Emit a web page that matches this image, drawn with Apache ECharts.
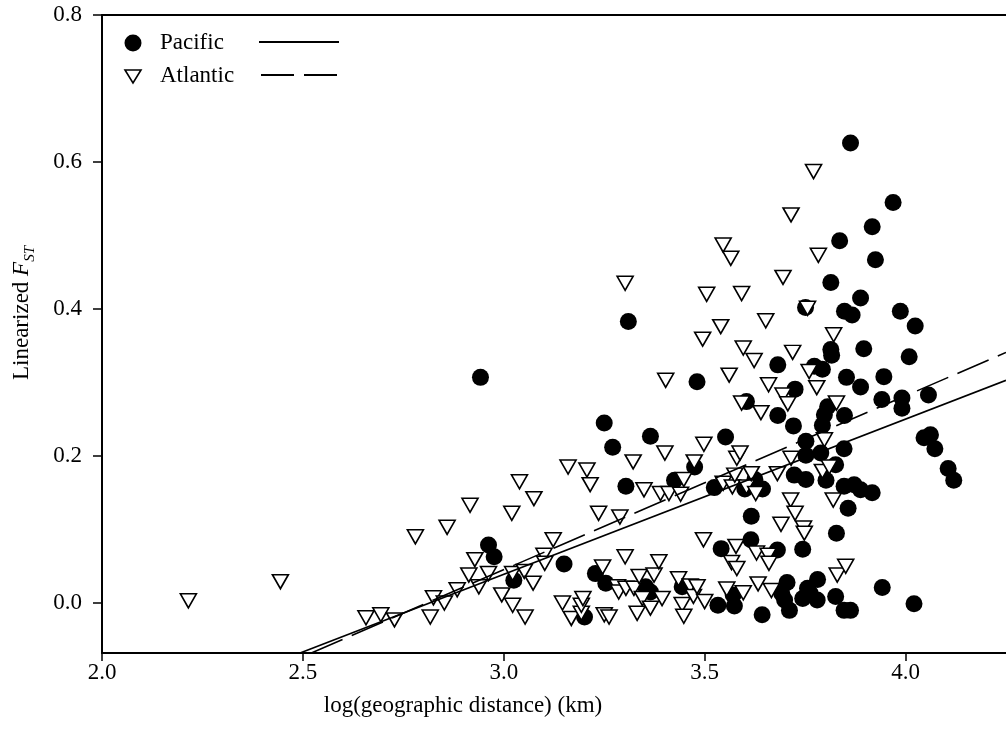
<!DOCTYPE html>
<html>
<head>
<meta charset="utf-8">
<script src="https://cdn.jsdelivr.net/npm/echarts@6/dist/echarts.min.js"></script>
<style>
  html, body { margin: 0; padding: 0; background: #fff; }
  #chart { width: 1006px; height: 745px; }
</style>
</head>
<body>
<div id="chart"></div>
<script>
// Pairwise population comparisons: log10 geographic distance (km) vs linearized FST
const pacific = [
  [2.942, 0.307], [2.962, 0.079], [2.976, 0.063], [3.025, 0.031], [3.150, 0.053],
  [3.201, -0.019], [3.228, 0.040], [3.254, 0.027], [3.250, 0.245], [3.271, 0.212],
  [3.304, 0.159], [3.310, 0.383], [3.353, 0.022], [3.365, 0.015], [3.365, 0.227],
  [3.425, 0.167], [3.444, 0.022], [3.475, 0.185], [3.481, 0.301], [3.524, 0.157],
  [3.533, -0.003], [3.541, 0.074], [3.552, 0.226], [3.571, 0.011], [3.574, -0.004],
  [3.600, 0.155], [3.604, 0.274], [3.615, 0.086], [3.616, 0.118], [3.625, 0.168],
  [3.643, -0.016], [3.644, 0.155], [3.681, 0.072], [3.682, 0.324], [3.682, 0.255],
  [3.692, 0.013], [3.699, 0.004], [3.705, 0.028], [3.711, -0.010], [3.721, 0.241],
  [3.723, 0.174], [3.725, 0.291], [3.744, 0.073], [3.744, 0.006], [3.751, 0.402],
  [3.752, 0.220], [3.752, 0.201], [3.752, 0.168], [3.756, 0.020], [3.763, 0.013],
  [3.773, 0.322], [3.780, 0.004], [3.781, 0.032], [3.789, 0.204], [3.793, 0.318],
  [3.793, 0.242], [3.798, 0.256], [3.802, 0.167], [3.806, 0.267], [3.814, 0.436],
  [3.814, 0.345], [3.816, 0.337], [3.826, 0.188], [3.826, 0.009], [3.828, 0.095],
  [3.836, 0.493], [3.847, 0.210], [3.847, 0.159], [3.847, -0.010], [3.848, 0.397],
  [3.848, 0.255], [3.853, 0.307], [3.857, 0.129], [3.863, 0.626], [3.863, -0.010],
  [3.867, 0.392], [3.872, 0.161], [3.888, 0.415], [3.888, 0.294], [3.888, 0.154],
  [3.896, 0.346], [3.917, 0.512], [3.917, 0.150], [3.925, 0.467], [3.941, 0.277],
  [3.942, 0.021], [3.946, 0.308], [3.969, 0.545], [3.987, 0.397], [3.991, 0.279],
  [3.991, 0.265], [4.009, 0.335], [4.021, -0.001], [4.024, 0.377], [4.046, 0.225],
  [4.062, 0.229], [4.057, 0.283], [4.073, 0.210], [4.106, 0.183], [4.120, 0.167]
];

const atlantic = [
  [2.215, 0.003], [2.444, 0.029], [2.657, -0.020], [2.694, -0.016], [2.728, -0.023],
  [2.780, 0.090], [2.817, -0.019], [2.825, 0.007], [2.852, 0.000], [2.859, 0.103],
  [2.884, 0.018], [2.913, 0.038], [2.916, 0.133], [2.928, 0.059], [2.938, 0.022],
  [2.962, 0.040], [2.995, 0.011], [3.020, 0.122], [3.022, 0.040], [3.022, -0.003],
  [3.039, 0.165], [3.051, 0.043], [3.053, -0.019], [3.073, 0.027], [3.075, 0.142],
  [3.100, 0.065], [3.102, 0.054], [3.123, 0.086], [3.146, 0.000], [3.160, 0.185],
  [3.168, -0.021], [3.193, -0.014], [3.193, -0.003], [3.197, 0.006], [3.207, 0.181],
  [3.215, 0.161], [3.236, 0.122], [3.246, 0.049], [3.250, -0.016], [3.262, -0.019],
  [3.283, 0.022], [3.286, 0.015], [3.289, 0.117], [3.302, 0.063], [3.302, 0.435],
  [3.304, 0.020], [3.322, 0.192], [3.324, 0.020], [3.332, -0.014], [3.337, 0.036],
  [3.345, 0.006], [3.349, 0.154], [3.365, -0.007], [3.374, 0.038], [3.386, 0.056],
  [3.390, 0.149], [3.394, 0.006], [3.401, 0.204], [3.403, 0.303], [3.411, 0.149],
  [3.435, 0.033], [3.440, 0.148], [3.444, -0.002], [3.448, 0.168], [3.448, -0.018],
  [3.464, 0.023], [3.472, 0.009], [3.474, 0.192], [3.481, 0.022], [3.495, 0.359],
  [3.497, 0.086], [3.498, 0.216], [3.500, 0.002], [3.505, 0.420], [3.540, 0.376],
  [3.546, 0.487], [3.546, 0.163], [3.555, 0.019], [3.561, 0.310], [3.565, 0.469],
  [3.567, 0.055], [3.569, 0.158], [3.575, 0.174], [3.578, 0.077], [3.580, 0.197],
  [3.580, 0.047], [3.588, 0.204], [3.592, 0.421], [3.592, 0.272], [3.596, 0.347],
  [3.596, 0.014], [3.604, 0.158], [3.616, 0.176], [3.623, 0.330], [3.627, 0.149],
  [3.629, 0.068], [3.633, 0.026], [3.640, 0.259], [3.652, 0.384], [3.658, 0.065],
  [3.659, 0.297], [3.660, 0.054], [3.666, 0.017], [3.681, 0.176], [3.690, 0.107],
  [3.695, 0.443], [3.695, 0.283], [3.707, 0.271], [3.714, 0.140], [3.715, 0.528],
  [3.715, 0.197], [3.719, 0.341], [3.725, 0.122], [3.746, 0.102], [3.748, 0.095],
  [3.756, 0.401], [3.760, 0.315], [3.771, 0.587], [3.779, 0.293], [3.783, 0.473],
  [3.793, 0.179], [3.798, 0.222], [3.810, 0.185], [3.820, 0.140], [3.821, 0.365],
  [3.828, 0.272], [3.830, 0.038], [3.851, 0.050]
];

// Least-squares regression lines (end points across the axis range)
const pacificFit = [[2.493, -0.068], [4.25, 0.303]];
const atlanticFit = [[2.521, -0.068], [4.25, 0.341]];

const xTicks = [2.0, 2.5, 3.0, 3.5, 4.0];
const yTicks = [0.0, 0.2, 0.4, 0.6, 0.8];
const seriesNames = ['Pacific', 'Atlantic'];
const xTitle = 'log(geographic distance) (km)';

const FONT = '"Liberation Serif", "Times New Roman", serif';
const chart = echarts.init(document.getElementById('chart'), null, { renderer: 'canvas' });

const axisText = { fontFamily: FONT, fontSize: 23, color: '#000' };

chart.setOption({
  animation: false,
  backgroundColor: '#fff',
  grid: { left: 102, top: 15, right: -7, bottom: 92 },
  xAxis: [{
    type: 'value', min: 2.0, max: 4.25,
    axisLine: { show: true, onZero: false, lineStyle: { color: '#000', width: 2 } },
    axisTick: { show: true, inside: false, length: 8, customValues: xTicks, lineStyle: { color: '#000', width: 1.5 } },
    axisLabel: Object.assign({ margin: 8, customValues: xTicks, formatter: v => v.toFixed(1) }, axisText),
    splitLine: { show: false }
  }, {
    type: 'value', min: 2.0, max: 4.25, position: 'top',
    axisLine: { show: true, onZero: false, lineStyle: { color: '#000', width: 2 } },
    axisTick: { show: false }, axisLabel: { show: false }, splitLine: { show: false }
  }],
  yAxis: {
    type: 'value', min: -0.068, max: 0.8,
    axisLine: { show: true, onZero: false, lineStyle: { color: '#000', width: 2 } },
    axisTick: { show: true, inside: false, length: 9, customValues: yTicks, lineStyle: { color: '#000', width: 1.5 } },
    axisLabel: Object.assign({ margin: 20, customValues: yTicks, formatter: v => v.toFixed(1) }, axisText),
    splitLine: { show: false }
  },
  series: [{
    name: seriesNames[0], type: 'scatter', data: pacific,
    symbol: 'circle', symbolSize: 17,
    itemStyle: { color: '#000', opacity: 1 }, z: 2
  }, {
    name: seriesNames[1], type: 'scatter', data: atlantic,
    symbol: 'triangle', symbolRotate: 180, symbolSize: [16, 14],
    itemStyle: { color: '#fff', borderColor: '#000', borderWidth: 1.6, opacity: 1 }, z: 3
  }, {
    name: seriesNames[0] + ' fit', type: 'line', data: pacificFit,
    showSymbol: false, symbol: 'none', silent: true,
    lineStyle: { color: '#000', width: 1.6, type: 'solid' }, z: 4
  }, {
    name: seriesNames[1] + ' fit', type: 'line', data: atlanticFit,
    showSymbol: false, symbol: 'none', silent: true,
    lineStyle: { color: '#000', width: 1.6, type: [34, 10] }, z: 4
  }],
  graphic: [
    // legend: marker, label and line sample for each group
    { type: 'circle', shape: { cx: 133, cy: 43, r: 8.5 }, style: { fill: '#000' }, z: 10 },
    { type: 'text', x: 160, y: 43, style: { text: seriesNames[0], fontFamily: FONT, fontSize: 23, fill: '#000', verticalAlign: 'middle' }, z: 10 },
    { type: 'line', shape: { x1: 259, y1: 42, x2: 339, y2: 42 }, style: { stroke: '#000', lineWidth: 1.8 }, z: 10 },
    { type: 'polygon', shape: { points: [[125, 70], [141, 70], [133, 83]] }, style: { fill: '#fff', stroke: '#000', lineWidth: 1.6 }, z: 10 },
    { type: 'text', x: 160, y: 76, style: { text: seriesNames[1], fontFamily: FONT, fontSize: 23, fill: '#000', verticalAlign: 'middle' }, z: 10 },
    { type: 'line', shape: { x1: 261, y1: 75, x2: 338, y2: 75 }, style: { stroke: '#000', lineWidth: 1.8, lineDash: [33, 10] }, z: 10 },
    // axis titles
    { type: 'text', x: 463, y: 706, style: { text: xTitle, fontFamily: FONT, fontSize: 23, fill: '#000', align: 'center', verticalAlign: 'middle' }, z: 10 },
    {
      type: 'text', x: 24, y: 313, rotation: Math.PI / 2,
      style: {
        text: '{a|Linearized }{f|F}{s|ST}',
        align: 'center', verticalAlign: 'middle', fill: '#000',
        rich: {
          a: { fontFamily: FONT, fontSize: 23, verticalAlign: 'top', fill: '#000' },
          f: { fontFamily: FONT, fontSize: 23, fontStyle: 'italic', verticalAlign: 'top', fill: '#000' },
          s: { fontFamily: FONT, fontSize: 15, fontStyle: 'italic', verticalAlign: 'top', padding: [12, 0, 0, 0], fill: '#000' }
        }
      }, z: 10
    }
  ]
});
</script>
</body>
</html>
